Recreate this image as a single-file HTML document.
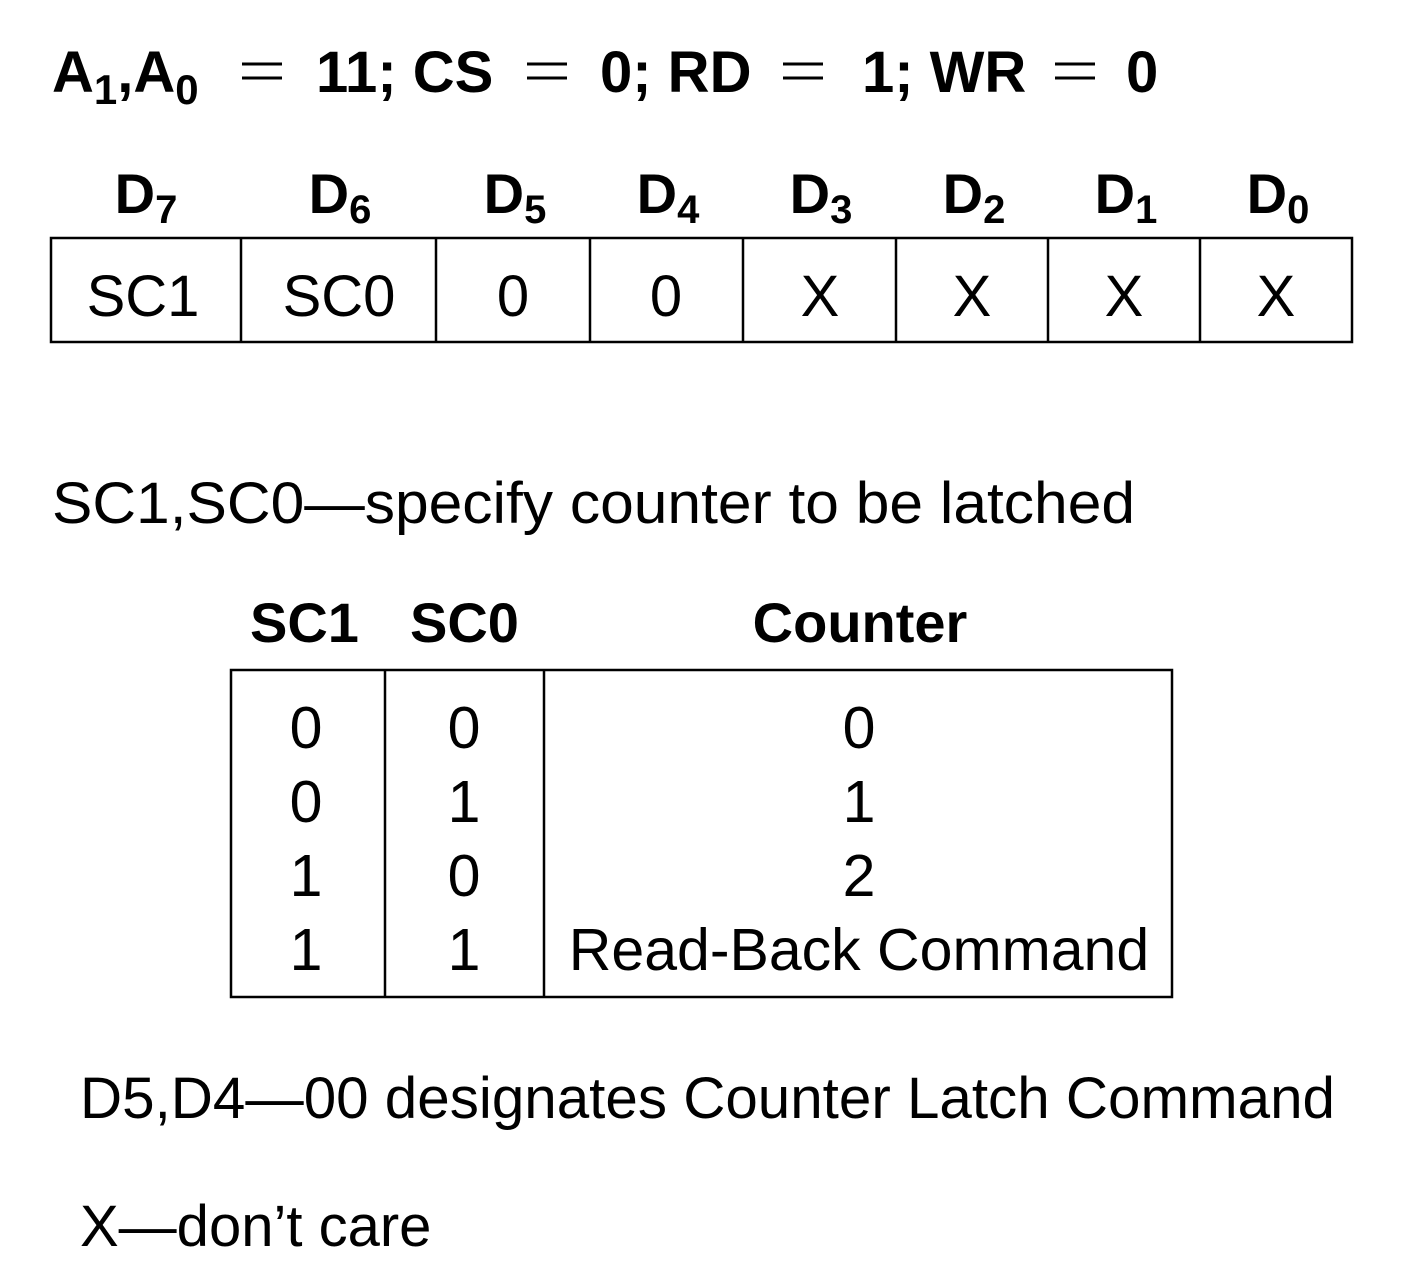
<!DOCTYPE html>
<html><head><meta charset="utf-8"><style>
html,body{margin:0;padding:0;background:#fff;}
svg{display:block;}
text{font-family:"Liberation Sans",Arial,sans-serif;fill:#000;}
.b{font-weight:bold;}
</style></head><body>
<svg width="1412" height="1288" viewBox="0 0 1412 1288" xmlns="http://www.w3.org/2000/svg">
<!-- Title -->
<g font-size="58" class="b">
<text x="52" y="92" class="b">A<tspan font-size="42" dy="12">1</tspan><tspan dy="-12">,A</tspan><tspan font-size="42" dy="12">0</tspan></text>
<text x="316" y="92" class="b">11; CS</text>
<text x="600" y="92" class="b">0; RD</text>
<text x="862" y="92" class="b">1; WR</text>
<text x="1126" y="92" class="b">0</text>
</g>
<g stroke="#000" stroke-width="3">
<line x1="242" y1="64" x2="282" y2="64"/><line x1="242" y1="78" x2="282" y2="78"/>
<line x1="527" y1="64" x2="567" y2="64"/><line x1="527" y1="78" x2="567" y2="78"/>
<line x1="783" y1="64" x2="823" y2="64"/><line x1="783" y1="78" x2="823" y2="78"/>
<line x1="1055" y1="64" x2="1095" y2="64"/><line x1="1055" y1="78" x2="1095" y2="78"/>
</g>
<!-- D labels -->
<g font-size="56" class="b" text-anchor="middle">
<text x="146" y="213" class="b">D<tspan font-size="40" dy="10">7</tspan></text>
<text x="340" y="213" class="b">D<tspan font-size="40" dy="10">6</tspan></text>
<text x="515" y="213" class="b">D<tspan font-size="40" dy="10">5</tspan></text>
<text x="668" y="213" class="b">D<tspan font-size="40" dy="10">4</tspan></text>
<text x="821" y="213" class="b">D<tspan font-size="40" dy="10">3</tspan></text>
<text x="974" y="213" class="b">D<tspan font-size="40" dy="10">2</tspan></text>
<text x="1126" y="213" class="b">D<tspan font-size="40" dy="10">1</tspan></text>
<text x="1278" y="213" class="b">D<tspan font-size="40" dy="10">0</tspan></text>
</g>
<!-- Table 1 -->
<g stroke="#000" stroke-width="2.5" fill="none">
<rect x="51" y="238" width="1301" height="104"/>
<line x1="241" y1="238" x2="241" y2="342"/>
<line x1="436" y1="238" x2="436" y2="342"/>
<line x1="590" y1="238" x2="590" y2="342"/>
<line x1="743" y1="238" x2="743" y2="342"/>
<line x1="896" y1="238" x2="896" y2="342"/>
<line x1="1048" y1="238" x2="1048" y2="342"/>
<line x1="1200" y1="238" x2="1200" y2="342"/>
</g>
<g font-size="58" text-anchor="middle">
<text x="143" y="316">SC1</text>
<text x="339" y="316">SC0</text>
<text x="513" y="316">0</text>
<text x="666" y="316">0</text>
<text x="820" y="316">X</text>
<text x="972" y="316">X</text>
<text x="1124" y="316">X</text>
<text x="1276" y="316">X</text>
</g>
<text x="52" y="523" font-size="58" textLength="1083" lengthAdjust="spacingAndGlyphs">SC1,SC0—specify counter to be latched</text>
<!-- Table 2 header -->
<g font-size="56" class="b">
<text x="250" y="642" class="b">SC1</text>
<text x="410" y="642" class="b">SC0</text>
<text x="860" y="642" class="b" text-anchor="middle">Counter</text>
</g>
<g stroke="#000" stroke-width="2.5" fill="none">
<rect x="231" y="670" width="941" height="327"/>
<line x1="385" y1="670" x2="385" y2="997"/>
<line x1="544" y1="670" x2="544" y2="997"/>
</g>
<g font-size="59" text-anchor="middle">
<text x="306" y="748">0</text><text x="464" y="748">0</text><text x="859" y="748">0</text>
<text x="306" y="822">0</text><text x="464" y="822">1</text><text x="859" y="822">1</text>
<text x="306" y="896">1</text><text x="464" y="896">0</text><text x="859" y="896">2</text>
<text x="306" y="970">1</text><text x="464" y="970">1</text><text x="859" y="970">Read-Back Command</text>
</g>
<text x="80" y="1118" font-size="58" textLength="1255" lengthAdjust="spacingAndGlyphs">D5,D4—00 designates Counter Latch Command</text>
<text x="80" y="1246" font-size="58">X—don’t care</text>
</svg>
</body></html>
